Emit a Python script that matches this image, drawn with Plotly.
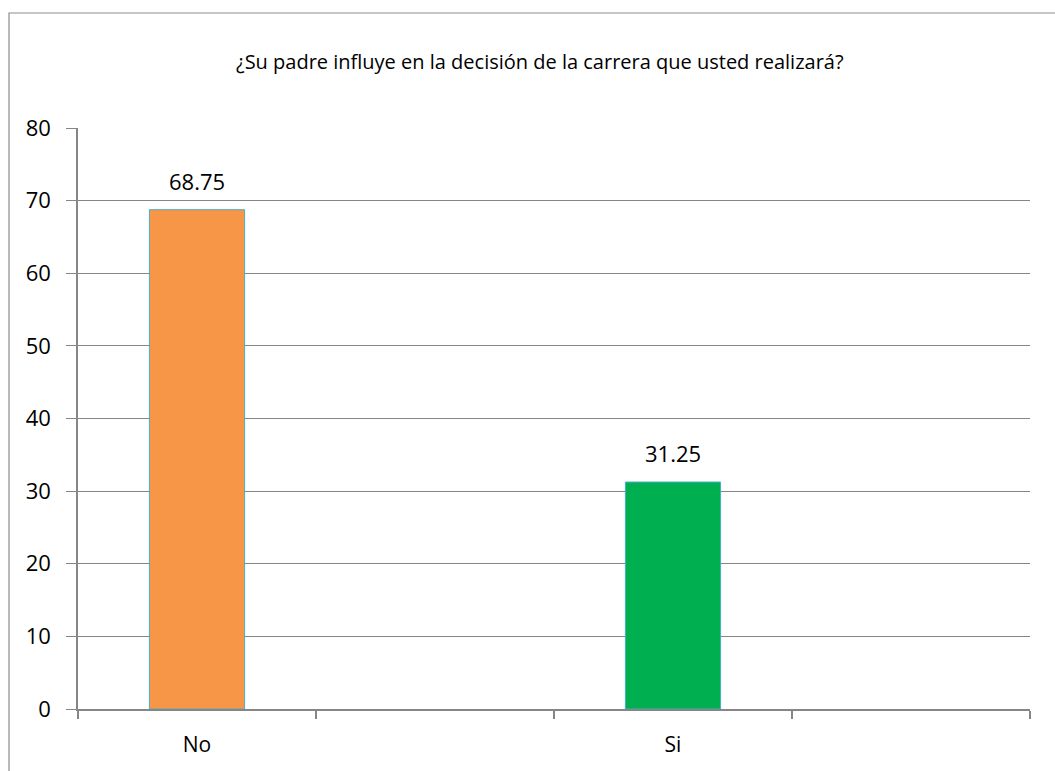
import plotly.graph_objects as go

# Category slots on the x axis (two empty slots between/after answers)
categories = ["No", " ", "Si", "  "]
values = [68.75, None, 31.25, None]
bar_colors = ["#F79646", "#FFFFFF", "#00B050", "#FFFFFF"]
value_labels = ["68.75", "", "31.25", ""]
y_ticks = [0, 10, 20, 30, 40, 50, 60, 70, 80]

W, H = 1055, 771
L, R, T, B = 78, 25, 128, 62
pw, ph = W - L - R, H - T - B
FONT = "Open Sans, Liberation Sans, sans-serif"

def px_x(x):
    return (x - L) / pw

def px_y(y):
    return (H - B - y) / ph

fig = go.Figure()
fig.add_trace(go.Bar(
    x=categories,
    y=values,
    width=0.40,
    marker=dict(color=bar_colors, line=dict(color="#4BACC6", width=1)),
    showlegend=False,
    hoverinfo="x+y",
))

# value labels above each bar
annotations = [
    dict(x=c, y=v, text=t, xref="x", yref="y",
         xanchor="center", yanchor="bottom", yshift=12, showarrow=False,
         font=dict(family=FONT, size=22, color="#000000"))
    for c, v, t in zip(categories, values, value_labels) if v is not None
]
annotations.append(dict(
    text="¿Su padre influye en la decisión de la carrera que usted realizará?",
    xref="paper", yref="paper",
    x=px_x(540), y=px_y(62),
    xanchor="center", yanchor="middle",
    showarrow=False,
    font=dict(family=FONT, size=20, color="#000000"),
))

fig.update_layout(
    width=W, height=H,
    margin=dict(l=L, r=R, t=T, b=B),
    paper_bgcolor="#FFFFFF",
    plot_bgcolor="#FFFFFF",
    font=dict(family=FONT, color="#000000"),
    annotations=annotations,
    shapes=[dict(
        type="rect", xref="paper", yref="paper",
        x0=px_x(9), x1=px_x(1070), y0=px_y(790), y1=px_y(13),
        line=dict(color="#8C8C8C", width=1.2),
        fillcolor="rgba(0,0,0,0)",
        layer="below",
    )],
)

fig.update_xaxes(
    type="category",
    range=[-0.5, 3.5],
    showgrid=False,
    showline=True, linecolor="#868686", linewidth=1.5,
    ticks="outside", tickson="boundaries", ticklen=8, tickcolor="#868686", tickwidth=1.5,
    tickfont=dict(family=FONT, size=21, color="#000000"),
    ticklabelstandoff=16,
    zeroline=False,
)
fig.update_yaxes(
    range=[0, 80],
    tickvals=y_ticks,
    showgrid=True, gridcolor="#868686", gridwidth=1.2,
    showline=True, linecolor="#868686", linewidth=1.5,
    ticks="outside", ticklen=10, tickcolor="#868686", tickwidth=1.2,
    tickfont=dict(family=FONT, size=22, color="#000000"),
    ticklabelstandoff=11,
    zeroline=False,
)

fig.write_html("out.html")
